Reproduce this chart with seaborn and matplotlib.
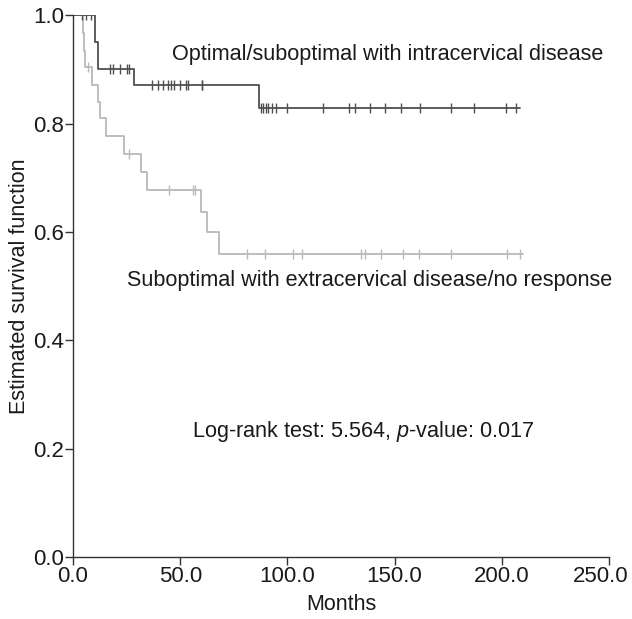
import numpy as np
import pandas as pd
import matplotlib
matplotlib.use("Agg")
import matplotlib.pyplot as plt
import matplotlib.transforms as mtransforms
import seaborn as sns

# ---- data ----
opt_times = [0.0, 10.3, 11.8, 28.6, 86.7]
opt_surv = [1.0, 0.951, 0.902, 0.872, 0.830]
opt_end = 208.3
opt_censor = [4.2, 6.1, 8.4,
              17.2, 18.6, 21.9, 25.2, 26.1,
              36.7, 39.7, 42.1, 44.4, 45.5, 47.1, 49.9, 52.7, 53.7, 60.0, 60.4,
              87.9, 88.7, 89.9, 91.0, 92.6, 94.9, 99.6, 116.6, 128.6, 131.4,
              138.4, 145.7, 153.2, 161.7, 176.5, 186.9, 201.8, 206.4]

sub_times = [0.0, 4.6, 5.2, 5.8, 8.7, 11.5, 12.6, 15.2, 23.9, 31.7, 34.6,
             59.5, 62.6, 68.2]
sub_surv = [1.0, 0.968, 0.935, 0.905, 0.872, 0.841, 0.811, 0.777, 0.745,
            0.711, 0.677, 0.637, 0.600, 0.559]
sub_end = 209.7
sub_censor = [6.8, 26.1, 44.9, 55.8, 56.9, 81.2, 89.5, 102.4, 107.0, 134.5,
              136.1, 143.5, 153.9, 161.4, 176.5, 202.6, 208.3]

label_opt = "Optimal/suboptimal with intracervical disease"
label_sub = "Suboptimal with extracervical disease/no response"
stat_text = "Log-rank test: 5.564, $\\mathit{p}$-value: 0.017"
x_ticks = [0, 50, 100, 150, 200, 250]
y_ticks = [0.0, 0.2, 0.4, 0.6, 0.8, 1.0]

sns.set_theme(style="ticks")
plt.rcParams["font.family"] = ["Liberation Sans", "DejaVu Sans"]
plt.rcParams["mathtext.fontset"] = "custom"
plt.rcParams["mathtext.rm"] = "Liberation Sans"
plt.rcParams["mathtext.it"] = "Liberation Sans:italic"

DARK = "#4f4f4f"
LIGHT = "#b9b9b9"
TXT = "#1a1a1a"

fig = plt.figure(figsize=(6.32, 6.19), dpi=100)
ax = fig.add_axes([0.1155, 0.1002, 0.8481, 0.8748])


def curve_df(times, surv, end):
    t = list(times) + [end]
    s = list(surv) + [surv[-1]]
    return pd.DataFrame({"t": t, "s": s})


def censor_df(times, surv, cens):
    t = np.asarray(times)
    s = np.asarray(surv)
    idx = np.searchsorted(t, np.asarray(cens), side="right") - 1
    return pd.DataFrame({"t": cens, "s": s[idx]})


for times, surv, end, cens, col in [
    (sub_times, sub_surv, sub_end, sub_censor, LIGHT),
    (opt_times, opt_surv, opt_end, opt_censor, DARK),
]:
    sns.lineplot(data=curve_df(times, surv, end), x="t", y="s", ax=ax,
                 drawstyle="steps-post", color=col, linewidth=1.3,
                 estimator=None, sort=False)
    sns.scatterplot(data=censor_df(times, surv, cens), x="t", y="s", ax=ax,
                    marker="|", s=60, linewidth=1.0, color=col, zorder=3)

ax.set_xlim(0, 250)
ax.set_ylim(0, 1.0)
ax.set_xticks(x_ticks)
ax.set_xticklabels([f"{v:.1f}" for v in x_ticks])
ax.set_yticks(y_ticks)
ax.set_yticklabels([f"{v:.1f}" for v in y_ticks])
ax.tick_params(axis="both", labelsize=16, length=6, width=1.0,
               color="#333333", labelcolor=TXT, pad=0.5)
for side in ["top", "right"]:
    ax.spines[side].set_visible(False)
for side in ["left", "bottom"]:
    ax.spines[side].set_color("#333333")
    ax.spines[side].set_linewidth(1.0)

# keep the last x tick label inside the figure, as in the reference
last = ax.get_xticklabels()[-1]
last.set_transform(last.get_transform() +
                   mtransforms.ScaledTranslation(-8 / 100, 0,
                                                 fig.dpi_scale_trans))

ax.set_xlabel("Months", fontsize=15.5, color=TXT, labelpad=5)
ax.set_ylabel("Estimated survival function", fontsize=15.5, color=TXT,
              labelpad=2)

ax.text(46.1, 0.928, label_opt, fontsize=15.6, color=TXT, va="center",
        ha="left")
ax.text(25.2, 0.510, label_sub, fontsize=15.6, color=TXT, va="center",
        ha="left")
ax.text(55.5, 0.231, stat_text, fontsize=15.6, color=TXT, va="center",
        ha="left")

fig.savefig("out.png", dpi=100, facecolor="white")
